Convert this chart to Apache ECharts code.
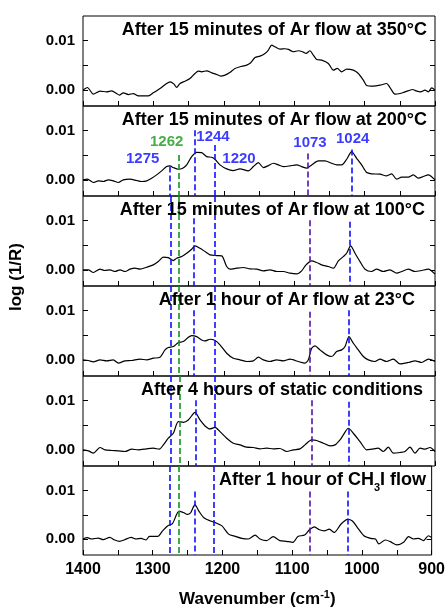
<!DOCTYPE html>
<html>
<head>
<meta charset="utf-8">
<script src="https://cdn.jsdelivr.net/npm/echarts@6/dist/echarts.min.js"></script>
<style>html,body{margin:0;padding:0;background:#fff}#c{width:448px;height:610px}</style>
</head>
<body>
<div id="c"></div>
<script>
// ---- data: [wavenumber (cm-1), log(1/R)] ----
const spec350 = [[1400,0.00000],[1393.8,0.00054],[1385.3,-0.00081],[1375.9,-0.00020],[1366.4,-0.00034],[1359.3,-0.00014],[1352.2,-0.00068],[1348.4,-0.00101],[1342.7,-0.00054],[1335.6,-0.00088],[1328.5,-0.00068],[1321.4,-0.00115],[1307.2,-0.00115],[1300.1,-0.00054],[1290.6,0.00034],[1281.2,0.00135],[1276.4,0.00169],[1270.7,0.00122],[1267.0,0.00054],[1262.2,0.00135],[1255.1,0.00182],[1248.0,0.00236],[1240.9,0.00338],[1236.2,0.00385],[1231.4,0.00372],[1224.3,0.00392],[1217.2,0.00351],[1210.1,0.00318],[1204.5,0.00284],[1198.3,0.00304],[1192.1,0.00351],[1184.1,0.00439],[1177.0,0.00473],[1167.5,0.00507],[1161.8,0.00554],[1155.7,0.00662],[1148.6,0.00689],[1141.5,0.00743],[1136.7,0.00811],[1132.0,0.00912],[1127.3,0.00878],[1120.2,0.00831],[1113.1,0.00838],[1108.3,0.00824],[1101.2,0.00777],[1094.1,0.00797],[1087.0,0.00770],[1083.2,0.00743],[1077.6,0.00797],[1072.8,0.00709],[1068.1,0.00622],[1061.0,0.00608],[1051.5,0.00541],[1044.4,0.00405],[1038.7,0.00439],[1032.6,0.00372],[1025.5,0.00426],[1016.0,0.00405],[1008.9,0.00338],[1001.8,0.00203],[997.1,0.00095],[987.6,0.00081],[978.1,0.00101],[968.7,0.00135],[963.9,0.00054],[956.8,-0.00081],[949.7,-0.00068],[942.6,-0.00034],[931.7,0.00014],[927.0,-0.00014],[920.4,-0.00034],[914.2,0.00000],[909.5,-0.00034],[904.7,0.00047],[900,0.00000]];
const spec200 = [[1400,0.00007],[1393.8,0.00020],[1385.3,-0.00047],[1378.2,-0.00013],[1371.1,-0.00027],[1364.0,0.00007],[1356.9,-0.00013],[1349.8,-0.00047],[1342.7,0.00007],[1333.2,0.00020],[1323.8,-0.00007],[1316.7,-0.00027],[1309.6,-0.00013],[1302.5,0.00040],[1295.4,0.00107],[1288.3,0.00188],[1281.2,0.00275],[1276.4,0.00289],[1271.7,0.00255],[1264.6,0.00221],[1258.4,0.00242],[1252.7,0.00309],[1245.6,0.00477],[1238.5,0.00564],[1231.4,0.00557],[1224.3,0.00477],[1217.2,0.00463],[1212.5,0.00423],[1205.4,0.00309],[1195.9,0.00228],[1186.5,0.00195],[1177.0,0.00228],[1165.2,0.00188],[1158.0,0.00275],[1150.9,0.00356],[1143.8,0.00255],[1136.7,0.00295],[1129.6,0.00342],[1122.5,0.00309],[1115.4,0.00275],[1106.0,0.00289],[1096.5,0.00309],[1089.4,0.00275],[1082.3,0.00242],[1075.2,0.00309],[1065.7,0.00389],[1056.3,0.00389],[1046.8,0.00342],[1039.7,0.00309],[1032.6,0.00309],[1025.5,0.00423],[1018.4,0.00577],[1011.3,0.00443],[1004.2,0.00309],[997.1,0.00154],[990.0,0.00128],[978.1,0.00121],[968.7,0.00087],[961.6,0.00128],[954.5,0.00020],[947.3,0.00060],[937.9,0.00060],[930.8,0.00107],[923.7,0.00040],[916.6,0.00074],[909.5,0.00107],[900,0.00007]];
const spec100 = [[1400,0.00007],[1392.4,0.00007],[1385.3,-0.00047],[1375.9,0.00020],[1368.8,-0.00007],[1361.6,0.00007],[1354.5,-0.00027],[1347.4,0.00007],[1340.3,-0.00027],[1333.2,0.00020],[1326.1,0.00040],[1319.0,0.00020],[1309.6,0.00060],[1300.1,0.00107],[1293.0,0.00174],[1285.9,0.00262],[1278.8,0.00255],[1271.7,0.00195],[1267.0,0.00242],[1259.8,0.00275],[1252.7,0.00342],[1245.6,0.00423],[1240.9,0.00490],[1233.8,0.00443],[1226.7,0.00376],[1219.6,0.00309],[1210.1,0.00295],[1203.0,0.00289],[1195.9,0.00074],[1191.2,0.00020],[1181.7,0.00040],[1172.3,0.00054],[1162.8,0.00027],[1153.3,0.00020],[1143.8,-0.00013],[1134.4,0.00007],[1124.9,-0.00027],[1115.4,-0.00027],[1106.0,-0.00060],[1096.5,-0.00074],[1089.4,-0.00013],[1083.2,0.00107],[1075.2,0.00188],[1068.1,0.00154],[1061.0,0.00107],[1051.5,0.00074],[1044.4,0.00040],[1037.3,0.00188],[1030.2,0.00275],[1025.5,0.00342],[1019.8,0.00490],[1013.6,0.00342],[1006.5,0.00174],[999.4,0.00020],[990.0,-0.00027],[982.9,0.00020],[973.4,-0.00027],[963.9,0.00007],[954.5,-0.00060],[947.3,-0.00027],[937.9,0.00020],[928.4,-0.00027],[919.0,-0.00007],[909.5,0.00020],[900,-0.00081]];
const spec23 = [[1400,0.00007],[1392.4,-0.00007],[1385.3,-0.00034],[1375.9,0.00007],[1366.4,-0.00013],[1356.9,0.00007],[1349.8,-0.00060],[1340.3,-0.00013],[1330.9,-0.00007],[1319.0,0.00020],[1309.6,0.00007],[1300.1,0.00040],[1290.6,0.00060],[1283.5,0.00208],[1278.8,0.00255],[1271.7,0.00275],[1264.6,0.00356],[1257.5,0.00376],[1250.4,0.00463],[1245.6,0.00497],[1238.5,0.00477],[1231.4,0.00409],[1226.7,0.00389],[1219.6,0.00423],[1212.5,0.00396],[1205.4,0.00309],[1195.9,0.00141],[1186.5,0.00040],[1177.0,0.00007],[1167.5,-0.00027],[1158.0,-0.00013],[1150.9,0.00060],[1143.8,0.00007],[1134.4,-0.00027],[1124.9,0.00007],[1115.4,-0.00013],[1106.0,0.00020],[1094.1,-0.00027],[1084.7,-0.00060],[1079.9,0.00007],[1075.2,0.00242],[1070.5,0.00289],[1063.4,0.00208],[1053.9,0.00107],[1046.8,0.00074],[1039.7,0.00174],[1032.6,0.00208],[1027.8,0.00275],[1022.2,0.00477],[1016.0,0.00342],[1008.9,0.00208],[1001.8,0.00074],[994.7,0.00007],[985.2,-0.00027],[978.1,0.00020],[968.7,-0.00027],[959.2,0.00020],[949.7,-0.00074],[937.9,-0.00047],[928.4,-0.00013],[919.0,-0.00047],[909.5,0.00020],[900,-0.00027]];
const specStatic = [[1400,0.00007],[1392.4,-0.00013],[1385.3,-0.00060],[1375.9,0.00054],[1368.8,0.00007],[1359.3,-0.00007],[1349.8,-0.00013],[1340.3,-0.00027],[1330.9,0.00020],[1321.4,0.00007],[1309.6,0.00027],[1300.1,0.00040],[1291.6,0.00020],[1285.9,0.00107],[1278.8,0.00242],[1271.7,0.00342],[1264.6,0.00577],[1257.5,0.00564],[1250.4,0.00611],[1240.9,0.00765],[1233.8,0.00611],[1226.7,0.00490],[1219.6,0.00430],[1212.5,0.00463],[1205.4,0.00376],[1195.9,0.00242],[1186.5,0.00141],[1177.0,0.00107],[1167.5,0.00060],[1158.0,0.00054],[1148.6,0.00027],[1139.1,0.00040],[1129.6,0.00027],[1120.2,0.00034],[1110.7,-0.00027],[1101.2,0.00007],[1091.8,0.00027],[1084.7,0.00107],[1075.2,0.00208],[1068.1,0.00195],[1058.6,0.00141],[1049.1,0.00087],[1042.0,0.00107],[1034.9,0.00208],[1030.2,0.00309],[1023.1,0.00443],[1016.0,0.00342],[1006.5,0.00174],[997.1,0.00007],[990.0,0.00020],[980.5,0.00040],[973.4,-0.00027],[966.3,0.00060],[959.2,-0.00060],[949.7,-0.00047],[942.6,-0.00027],[935.5,0.00060],[928.4,-0.00060],[921.3,0.00040],[914.2,0.00020],[907.1,0.00054],[900,-0.00027]];
const specCH3I = [[1400,0.00007],[1393.8,0.00034],[1387.7,0.00007],[1378.2,0.00027],[1371.1,-0.00007],[1361.6,0.00040],[1354.5,-0.00013],[1347.4,-0.00040],[1340.3,-0.00007],[1330.9,0.00040],[1323.8,0.00007],[1316.7,0.00020],[1309.6,-0.00013],[1304.8,0.00060],[1293.0,0.00060],[1285.9,0.00174],[1278.8,0.00275],[1271.7,0.00322],[1262.2,0.00577],[1255.1,0.00544],[1250.4,0.00510],[1245.6,0.00544],[1239.5,0.00711],[1233.8,0.00577],[1226.7,0.00443],[1217.2,0.00376],[1210.1,0.00342],[1200.7,0.00275],[1191.2,0.00107],[1181.7,0.00060],[1172.3,0.00020],[1162.8,0.00007],[1153.3,0.00087],[1146.2,0.00007],[1136.7,-0.00027],[1127.3,0.00054],[1117.8,-0.00027],[1108.3,-0.00040],[1098.9,-0.00060],[1091.8,0.00060],[1082.3,0.00087],[1075.2,0.00195],[1068.1,0.00255],[1061.0,0.00195],[1053.9,0.00174],[1046.8,0.00208],[1039.7,0.00141],[1030.2,0.00309],[1020.7,0.00409],[1013.6,0.00376],[1006.5,0.00242],[997.1,0.00074],[987.6,0.00020],[980.5,0.00007],[975.8,-0.00094],[966.3,-0.00013],[959.2,-0.00047],[949.7,-0.00114],[940.2,-0.00060],[933.1,0.00054],[926.0,0.00007],[919.0,0.00020],[911.8,-0.00027],[904.7,0.00074],[900,0.00040]];

const panelTitles = ['After 15 minutes of Ar flow at 350°C','After 15 minutes of Ar flow at 200°C','After 15 minutes of Ar flow at 100°C','After 1 hour of Ar flow at 23°C','After 4 hours of static conditions','After 1 hour of CH{s|3}I flow'];
const peakLabels = ['1275','1262','1244','1220','1073','1024'];
// marker line wavenumbers as drawn in each panel (panels 2..6)
const peakLines = [
  null,
  [1276.4,1264.4,1241.2,1212.9,1080.2,1018.3],
  [1276.0,1264.1,1243.3,1213.0,1078.5,1020.7],
  [1275.5,1263.6,1242.3,1213.0,1077.6,1022.2],
  [1275.5,1263.2,1240.0,1212.5,1075.7,1022.2],
  [1275.0,1263.2,1240.0,1212.5,1074.2,1019.8]
];
const xTicks = [1400,1300,1200,1100,1000,900];
const yTickLabels = [0, 0.01];
const yTicks = [0, 0.005, 0.01];

// ---- layout / style ----
const spectra = [spec350, spec200, spec100, spec23, specStatic, specCH3I];
const X_MIN = 900, X_MAX = 1400, Y_MIN = -0.0032, Y_MAX = 0.015;
const G_LEFT = 83, G_W = 352, G_TOP = 16, G_H = 90;
const FONT = '"Liberation Sans", Arial, Helvetica, sans-serif';
const titleRight = [21, 21, 23, 33, 25, 22];
const BLUE = '#0f0fff', GREEN = '#12941a', PURPLE = '#5612a8';
const lineColors = [BLUE, GREEN, BLUE, BLUE, PURPLE, BLUE];
const labelColors = ['#0a0aff', '#169a16', '#0a0aff', '#0a0aff', '#0a0aff', '#0a0aff'];
// where each dashed marker line starts (top end) in each panel
const lineTops = [
  null,
  [0.00275, 0.0051, 0.0101, 0.0071, 0.0054, 0.0062],
  [Y_MAX, Y_MAX, 0.0105, Y_MAX, 0.0101, 0.0098],
  [Y_MAX, Y_MAX, 0.0101, Y_MAX, 0.0098, 0.0101],
  [Y_MAX, Y_MAX, 0.0101, Y_MAX, 0.0101, 0.0098],
  [Y_MAX, Y_MAX, 0.0098, Y_MAX, 0.0098, 0.0098]
];
// label anchor positions (in data units) for panel 2 annotations
const labelPos = [[1315.2,0.0043],[1281.1,0.00766],[1215.3,0.00879],[1178.4,0.0043],[1077.6,0.00752],[1016.9,0.00833]];

const grids = [], xAxes = [], yAxes = [], series = [], titles = [];
for (let i = 0; i < 6; i++) {
  grids.push({left: G_LEFT, width: G_W, top: G_TOP + G_H * i, height: G_H,
    show: true, borderColor: '#000', borderWidth: 1, backgroundColor: 'transparent'});
  xAxes.push({type: 'value', gridIndex: i, min: X_MIN, max: X_MAX, interval: 100, inverse: true,
    axisLine: {show: false, onZero: false}, splitLine: {show: false},
    axisTick: {inside: true, length: 5, lineStyle: {color: '#000', width: 1}},
    minorTick: {show: true, splitNumber: 2, length: 5, lineStyle: {color: '#000', width: 1}},
    axisLabel: {show: i === 5, margin: 7, color: '#000', fontSize: 16, fontWeight: 'bold', fontFamily: FONT,
      customValues: xTicks, formatter: v => String(v)},
    name: i === 5 ? 'Wavenumber (cm{sup|-1})' : '',
    nameLocation: 'middle', nameGap: 34,
    nameTextStyle: {color: '#000', fontSize: 17, fontWeight: 'bold', fontFamily: FONT, lineHeight: 20,
      rich: {sup: {fontSize: 11, fontWeight: 'bold', fontFamily: FONT, lineHeight: 11, verticalAlign: 'top', color: '#000'}}}
  });
  yAxes.push({type: 'value', gridIndex: i, min: Y_MIN, max: Y_MAX, position: 'left',
    axisLine: {show: false, onZero: false}, splitLine: {show: false},
    axisTick: {inside: true, length: 5, customValues: yTicks, lineStyle: {color: '#000'}},
    axisLabel: {customValues: yTickLabels, margin: 8, color: '#000', fontSize: 15, fontWeight: 'bold', fontFamily: FONT,
      formatter: v => v.toFixed(2)}
  });
  yAxes.push({type: 'value', gridIndex: i, min: Y_MIN, max: Y_MAX, position: 'right',
    axisLine: {show: false, onZero: false}, splitLine: {show: false},
    axisTick: {inside: true, length: 5, customValues: yTicks, lineStyle: {color: '#000'}},
    axisLabel: {show: false}
  });
  const s = {type: 'line', xAxisIndex: i, yAxisIndex: 2 * i, data: spectra[i], showSymbol: false,
    smooth: 0.25, lineStyle: {color: '#000', width: 1.2}, z: 3, silent: true};
  if (peakLines[i]) {
    s.markLine = {silent: true, symbol: ['none', 'none'], label: {show: false}, animation: false,
      data: peakLines[i].map((w, j) => [
        {coord: [w, lineTops[i][j]], lineStyle: {color: lineColors[j], type: [6, 3], width: 1.6, opacity: 1}},
        {coord: [w, Y_MIN]}
      ])};
  }
  series.push(s);
  titles.push({text: panelTitles[i], right: titleRight[i], top: G_TOP + G_H * i + 4.5, padding: 0,
    textStyle: {color: '#000', fontSize: 18, fontWeight: 'bold', fontFamily: FONT, lineHeight: 20,
      rich: {s: {fontSize: 11, fontWeight: 'bold', fontFamily: FONT, lineHeight: 11, verticalAlign: 'bottom', color: '#000', padding: [0, 0, -3, 0]}}}});
}
// peak annotations in panel 2
series.push({type: 'scatter', xAxisIndex: 1, yAxisIndex: 2, symbolSize: 0, silent: true, z: 5,
  data: peakLabels.map((t, j) => ({name: t, value: labelPos[j],
    label: {show: true, position: 'inside', formatter: '{b}', color: labelColors[j], fontSize: 15, fontWeight: 'bold', fontFamily: FONT}}))});

const chart = echarts.init(document.getElementById('c'), null, {renderer: 'canvas'});
chart.setOption({
  animation: false,
  backgroundColor: '#fff',
  title: titles,
  grid: grids,
  xAxis: xAxes,
  yAxis: yAxes,
  series: series,
  graphic: [{type: 'text', x: 16, y: 277, rotation: Math.PI / 2,
    style: {text: 'log (1/R)', fill: '#000', font: 'bold 17px ' + FONT, textAlign: 'center', textVerticalAlign: 'middle'}}]
});
</script>
</body>
</html>
